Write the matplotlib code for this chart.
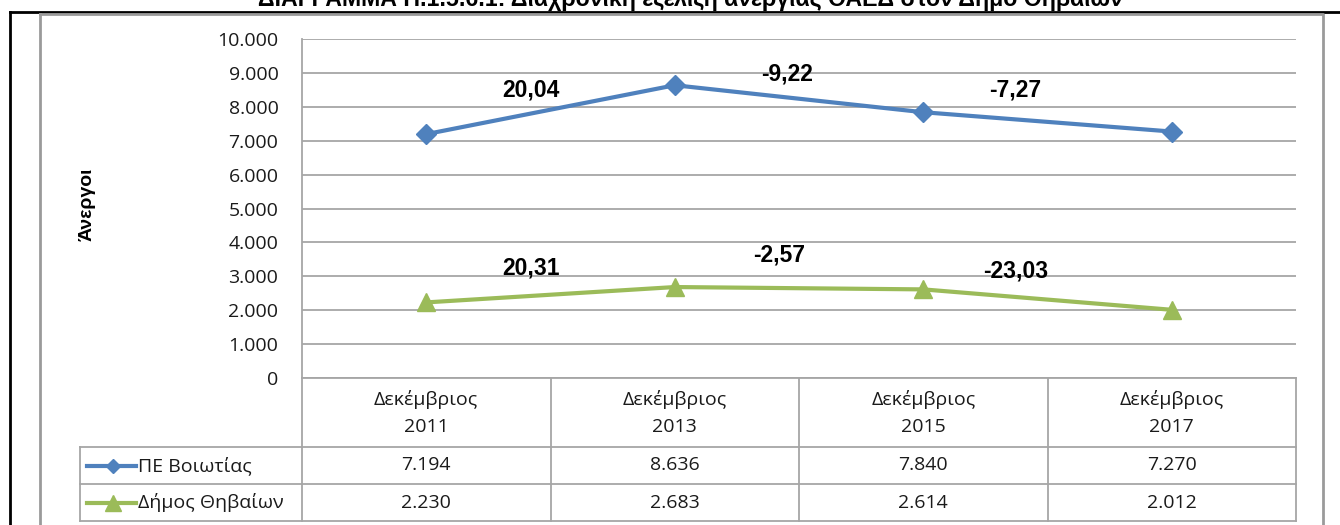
import matplotlib
matplotlib.use('Agg')
import matplotlib.pyplot as plt
from matplotlib.lines import Line2D
from matplotlib.ticker import FuncFormatter, FixedLocator

# ---------------- data ----------------
categories = ["Δεκέμβριος\n2011", "Δεκέμβριος\n2013", "Δεκέμβριος\n2015", "Δεκέμβριος\n2017"]
series_names = ["ΠΕ Βοιωτίας", "Δήμος Θηβαίων"]
pe_voiotias = [7194, 8636, 7840, 7270]
dimos_thivaion = [2230, 2683, 2614, 2012]
pe_changes = ["20,04", "-9,22", "-7,27"]
dimos_changes = ["20,31", "-2,57", "-23,03"]
yticks = list(range(0, 10001, 1000))
title = "ΔΙΑΓΡΑΜΜΑ Π.1.5.6.1: Διαχρονική εξέλιξη ανεργίας ΟΑΕΔ στον Δήμο Θηβαίων"
ylabel = "Άνεργοι"

# ---------------- style ----------------
BLUE = "#4F81BD"
GREEN = "#9BBB59"
GRID = "#A6A6A6"
TXT = "#1a1a1a"
CAL = ["Open Sans", "DejaVu Sans"]
ARIAL = ["Liberation Sans", "DejaVu Sans"]

# label anchors (layout) in data coords: (x, y)
pe_label_pos = [(0.42, 8500), (1.45, 8970), (2.37, 8500)]
dimos_label_pos = [(0.42, 3250), (1.42, 3630), (2.37, 3160)]

W, H = 1340, 525
fig = plt.figure(figsize=(W / 100, H / 100), dpi=100)


def fx(px):
    return px / W


def fy(py):
    return 1 - py / H


# frames
fig.add_artist(Line2D([fx(10), fx(10)], [fy(11.5), 0], transform=fig.transFigure,
                      color="black", lw=2))
fig.add_artist(Line2D([fx(10), 1], [fy(11.5), fy(11.5)], transform=fig.transFigure,
                      color="black", lw=2))
fig.add_artist(Line2D([fx(40), fx(1322.5), fx(1322.5)], [fy(13.5), fy(13.5), 0],
                      transform=fig.transFigure, color="#9a9a9a", lw=2))
fig.add_artist(Line2D([fx(40), fx(40)], [fy(13.5), 0],
                      transform=fig.transFigure, color="#9a9a9a", lw=2))

# title (cut at top as in reference)
fig.text(fx(258), fy(6), title, ha="left", va="baseline", fontweight="bold",
         fontsize=16.7, family=ARIAL, color="black")

# main axes
L, R, T, B = 302, 1296, 39, 378
ax = fig.add_axes([fx(L), fy(B), fx(R) - fx(L), fy(T) - fy(B)])
x = list(range(len(categories)))
ax.set_xlim(-0.5, len(categories) - 0.5)
ax.set_ylim(0, 10000)
ax.yaxis.set_major_locator(FixedLocator(yticks))
ax.yaxis.set_major_formatter(FuncFormatter(lambda v, p: f"{int(v):,}".replace(",", ".")))
ax.set_xticks([])
for s in ["top", "right", "bottom"]:
    ax.spines[s].set_visible(False)
ax.spines["left"].set_color(GRID)
ax.spines["left"].set_linewidth(1.3)
ax.grid(axis="y", color=GRID, lw=1.3)
ax.set_axisbelow(True)
ax.tick_params(axis="y", length=0, pad=17, labelsize=14, labelcolor=TXT)
for t in ax.get_yticklabels():
    t.set_family(CAL)

ax.plot(x, pe_voiotias, color=BLUE, lw=3, marker="D", ms=10, mfc=BLUE, mec=BLUE, clip_on=False, zorder=3)
ax.plot(x, dimos_thivaion, color=GREEN, lw=3, marker="^", ms=13, mfc=GREEN, mec=GREEN, clip_on=False, zorder=3)

for lab, (lx, ly) in zip(pe_changes, pe_label_pos):
    ax.text(lx, ly, lab, ha="center", va="center", fontsize=16.5, fontweight="bold",
            family=ARIAL, color="black")
for lab, (lx, ly) in zip(dimos_changes, dimos_label_pos):
    ax.text(lx, ly, lab, ha="center", va="center", fontsize=16.5, fontweight="bold",
            family=ARIAL, color="black")

fig.text(fx(87), fy(204), ylabel, rotation=90, ha="center", va="center",
         fontweight="bold", fontsize=14, family=ARIAL, color="black")

# data table below the plot
TB = 521
tax = fig.add_axes([fx(L), fy(TB), fx(R) - fx(L), (TB - B) / H])
tax.set_xlim(-0.5, len(categories) - 0.5)
tax.set_ylim(TB - B, 0)
tax.axis("off")
upx = len(categories) / (R - L)          # data units per pixel
x_left = -0.5 - (L - 80) * upx
rows = [0, 69, 106, 143]
lkw = dict(color=GRID, lw=1.3, clip_on=False)
# verticals
for i in range(len(categories) + 1):
    tax.plot([i - 0.5, i - 0.5], [rows[0], rows[-1]], **lkw)
tax.plot([x_left, x_left], [rows[1], rows[-1]], **lkw)
# horizontals
tax.plot([-0.5, len(categories) - 0.5], [rows[0], rows[0]], **lkw)
for r in rows[1:]:
    tax.plot([x_left, len(categories) - 0.5], [r, r], **lkw)

for i, c in enumerate(categories):
    tax.text(i, (rows[0] + rows[1]) / 2 + 0.5, c, ha="center", va="center", fontsize=14,
             family=CAL, color=TXT, linespacing=1.65)

series = [pe_voiotias, dimos_thivaion]
colors = [BLUE, GREEN]
markers = [("D", 7.5), ("^", 11)]
for k, (name, vals, col, (mk, ms)) in enumerate(zip(series_names, series, colors, markers)):
    yc = (rows[k + 1] + rows[k + 2]) / 2
    tax.plot([x_left + 7 * upx, x_left + 56 * upx], [yc, yc], color=col, lw=3, clip_on=False)
    tax.plot([x_left + 33 * upx], [yc], marker=mk, ms=ms, color=col, clip_on=False)
    tax.text(x_left + 58 * upx, yc, name, ha="left", va="center", fontsize=14,
             family=CAL, color=TXT)
    for i, v in enumerate(vals):
        tax.text(i, yc, f"{v:,}".replace(",", "."), ha="center", va="center",
                 fontsize=14, family=CAL, color=TXT)

fig.savefig("out.png", dpi=100, facecolor="white")
